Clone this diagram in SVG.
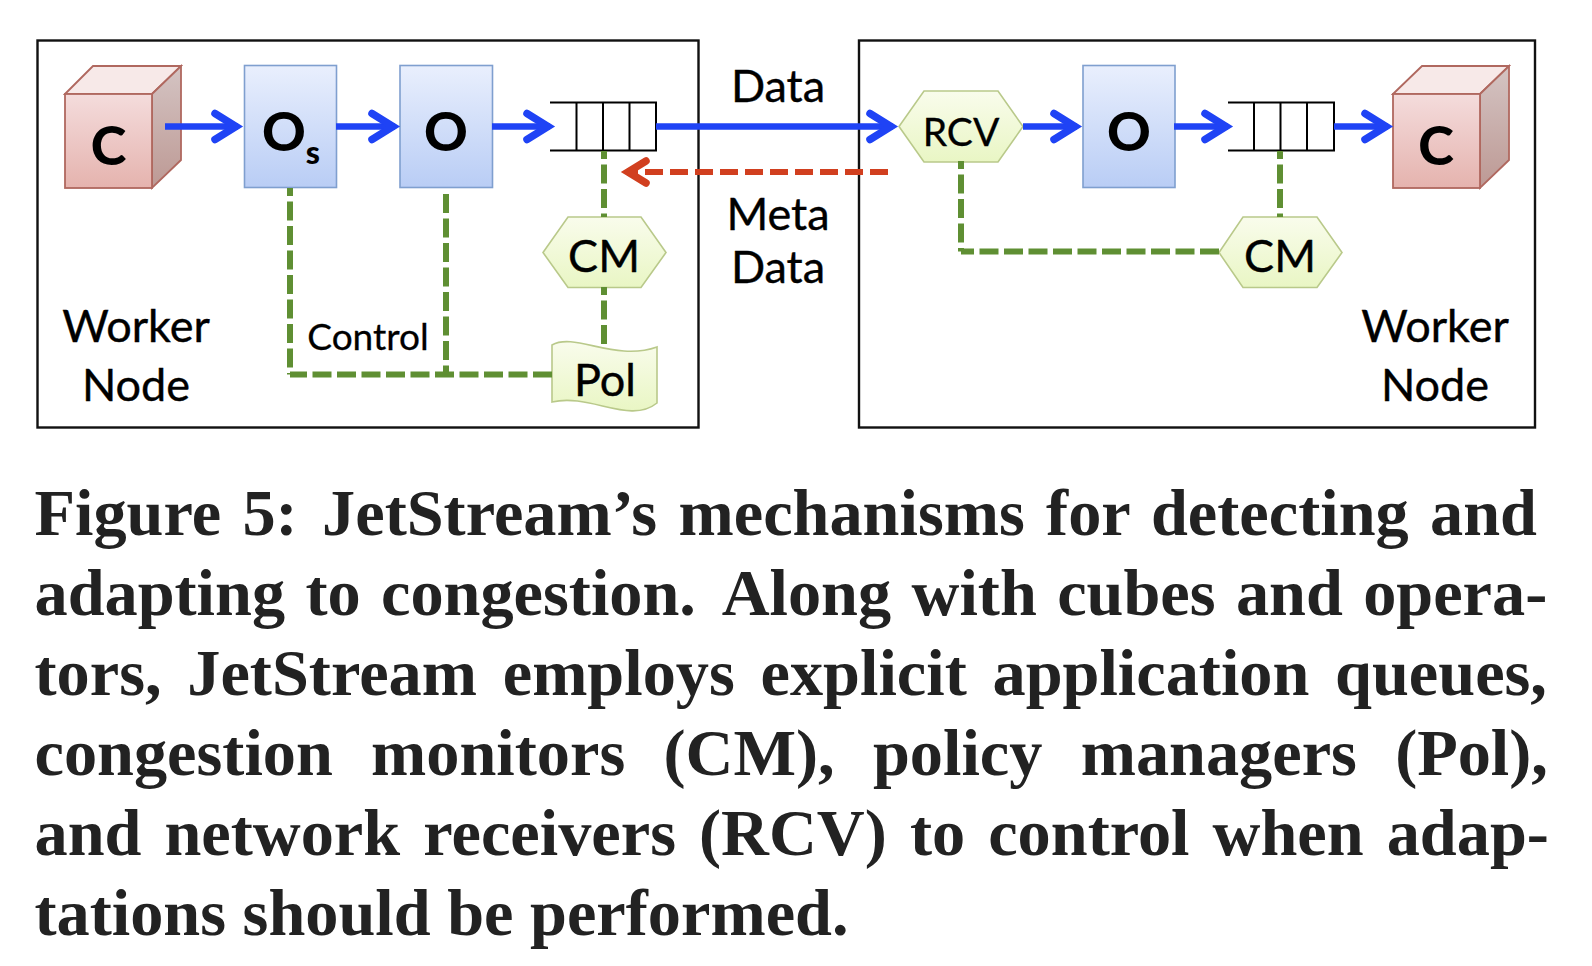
<svg xmlns="http://www.w3.org/2000/svg" width="1592" height="966" viewBox="0 0 1592 966">
<style>
.frame{fill:none;stroke:#111;stroke-width:2.4}
.data{fill:none;stroke:#1f43f5;stroke-width:6.500}
.head{fill:none;stroke:#1f43f5;stroke-width:7.500;stroke-linecap:round;stroke-linejoin:miter}
.ctl{fill:none;stroke:#5f8f33;stroke-width:6;stroke-dasharray:19 5.500}
.ctl-off{stroke-dashoffset:11}
.meta{fill:none;stroke:#d13f1f;stroke-width:6;stroke-dasharray:18 7}
.mhead{fill:none;stroke:#d13f1f;stroke-width:7.500;stroke-linecap:round}
.op{fill:url(#opFill);stroke:#7f9fcf;stroke-width:1.6}
.front{fill:url(#cubeFill);stroke:#b0685f;stroke-width:1.8}
.top{fill:#f7e9e8;stroke:#b0685f;stroke-width:1.8}
.side{fill:url(#sideFill);stroke:#b0685f;stroke-width:1.8}
.mon{fill:url(#monFill);stroke:#b9c98a;stroke-width:1.6}
.q{fill:none;stroke:#000;stroke-width:2}
text{font-family:Lato,"Open Sans",sans-serif;fill:#000}
.lab{font-size:45px;text-anchor:middle;stroke:#000;stroke-width:.4}
.b{font-size:54px;font-weight:900;text-anchor:middle}
.cap{font-family:"Liberation Serif",serif;font-size:66.300px;font-weight:700;fill:#222}
</style>
<defs>
<linearGradient id="opFill" x1="0" y1="0" x2="0" y2="1"><stop offset="0" stop-color="#e9effd"/><stop offset="1" stop-color="#b9cdf5"/></linearGradient>
<linearGradient id="cubeFill" x1="0" y1="0" x2="0" y2="1"><stop offset="0" stop-color="#f4dcdc"/><stop offset="1" stop-color="#e5b3ae"/></linearGradient>
<linearGradient id="sideFill" x1="0" y1="0" x2="0" y2="1"><stop offset="0" stop-color="#d4c4c3"/><stop offset="1" stop-color="#bd9994"/></linearGradient>
<linearGradient id="monFill" x1="0" y1="0" x2="0" y2="1"><stop offset="0" stop-color="#f9fcec"/><stop offset="1" stop-color="#e9f6c4"/></linearGradient>
<path id="arrowHead" class="head" d="M-28 -13 L-7 0 L-28 13"/>
</defs>

<g id="worker-left"><rect class="frame" x="37.500" y="40.500" width="661" height="387"/>
<text class="lab" x="136" y="342">Worker</text><text class="lab" x="136" y="401">Node</text></g>
<g id="worker-right"><rect class="frame" x="859" y="40.500" width="676" height="387"/>
<text class="lab" x="1435" y="342">Worker</text><text class="lab" x="1435" y="401">Node</text></g>

<g id="cube-left"><path class="top" d="M65 94 L93 66 H181 L152 94Z"/><path class="side" d="M152 94 L181 66 V160 L152 188Z"/><rect class="front" x="65" y="94" width="87" height="94"/><text class="b" x="108.500" y="165">C</text></g>
<g id="op-s"><rect class="op" x="244.500" y="65.500" width="92" height="122"/><text class="b" x="291" y="151">O<tspan font-size="32" dy="13">s</tspan></text></g>
<g id="op-left"><rect class="op" x="400" y="65.500" width="92.500" height="122"/><text class="b" x="446" y="151">O</text></g>
<g id="queue-left"><path class="q" d="M550 102.500H656V150.500H550M576.500 102.500V150.500M603 102.500V150.500M629.500 102.500V150.500"/></g>
<g id="cm-left"><path class="mon" d="M568 217H641L666 252.500L641 287.500H568L543 252.500Z"/><text class="lab" x="604" y="272">CM</text></g>
<g id="pol"><path class="mon" d="M552 345C575 332 615 362 657 347V403C630 425 590 393 552 402Z"/><text class="lab" x="605" y="396">Pol</text></g>
<g id="rcv"><path class="mon" d="M924 91H998L1023 126.500L998 162H924L899 126.500Z"/><text x="961" y="146" font-size="39" text-anchor="middle" stroke="#000" stroke-width=".3">RCV</text></g>
<g id="op-right"><rect class="op" x="1083" y="65.500" width="92" height="122"/><text class="b" x="1129" y="151">O</text></g>
<g id="queue-right"><path class="q" d="M1228 102.500H1334V150.500H1228M1254 102.500V150.500M1280.500 102.500V150.500M1307 102.500V150.500"/></g>
<g id="cube-right"><path class="top" d="M1393 94 L1422 66 H1509 L1480 94Z"/><path class="side" d="M1480 94 L1509 66 V160 L1480 188Z"/><rect class="front" x="1393" y="94" width="87" height="94"/><text class="b" x="1436" y="165">C</text></g>
<g id="cm-right"><path class="mon" d="M1243 217H1317L1342 252.500L1317 287.500H1243L1219 252.500Z"/><text class="lab" x="1280" y="272">CM</text></g>

<g id="connectors">
<path class="data" d="M165 126.500H238"/><use href="#arrowHead" x="243" y="126.500"/>
<path class="data" d="M336 126.500H395"/><use href="#arrowHead" x="400" y="126.500"/>
<path class="data" d="M492 126.500H550"/><use href="#arrowHead" x="555" y="126.500"/>
<path class="data" d="M656 126.500H893"/><use href="#arrowHead" x="898" y="126.500"/>
<path class="data" d="M1023 126.500H1077"/><use href="#arrowHead" x="1082" y="126.500"/>
<path class="data" d="M1174 126.500H1228"/><use href="#arrowHead" x="1233" y="126.500"/>
<path class="data" d="M1334 126.500H1388"/><use href="#arrowHead" x="1393" y="126.500"/>
<path class="meta" d="M888 172H630"/><path class="mhead" d="M646 161 L628 172 L646 183"/>
<path class="ctl ctl-off" d="M290 188V374.500"/>
<path class="ctl" d="M552 374.500H290"/>
<path class="ctl" d="M446 194V374.500"/>
<path class="ctl ctl-off" d="M604 151V217"/>
<path class="ctl ctl-off" d="M604 287V345"/>
<path class="ctl ctl-off" d="M961 161V251.500"/>
<path class="ctl" d="M1219 251.500H961"/>
<path class="ctl ctl-off" d="M1280 151V217"/>
</g>

<g id="link-labels">
<text class="lab" x="778" y="102">Data</text>
<text class="lab" x="778" y="230">Meta</text>
<text class="lab" x="778" y="283">Data</text>
<text x="368" y="350" font-size="37" text-anchor="middle" stroke="#000" stroke-width=".3">Control</text>
</g>

<g id="caption">
<text class="cap" x="34.500" y="535" word-spacing="4.800">Figure 5:<tspan dx="3"> JetStream’s mechanisms for detecting and</tspan></text>
<text class="cap" x="34.500" y="614.500" word-spacing="3.800">adapting to congestion.<tspan dx="9"> Along with cubes and opera-</tspan></text>
<text class="cap" x="34.500" y="694.500" word-spacing="9.200">tors, JetStream employs explicit application queues,</text>
<text class="cap" x="34.500" y="774.500" word-spacing="21.700">congestion monitors (CM), policy managers (Pol),</text>
<text class="cap" x="34.500" y="854.500" word-spacing="6.500">and network receivers (RCV) to control when adap-</text>
<text class="cap" x="34.500" y="934.500">tations should be performed.</text>
</g>
</svg>
